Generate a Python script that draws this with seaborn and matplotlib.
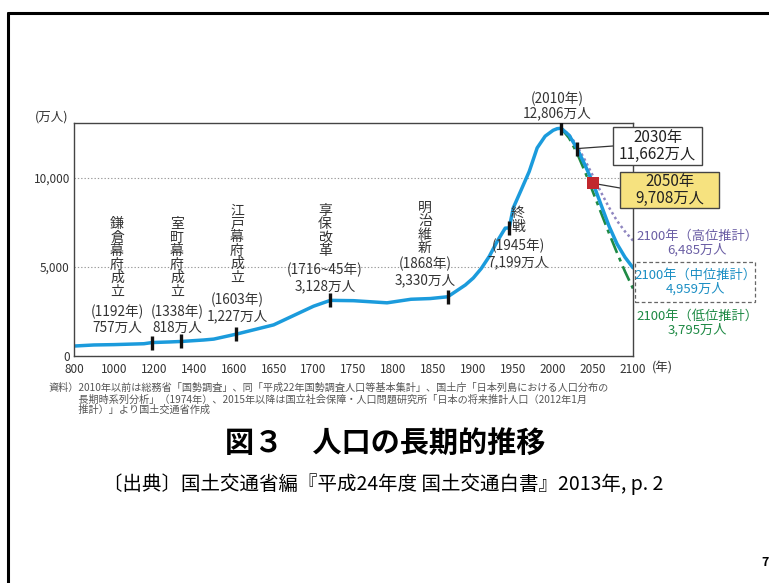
import numpy as np
import pandas as pd
import matplotlib
matplotlib.use("Agg")
import matplotlib.pyplot as plt
import seaborn as sns
from matplotlib.lines import Line2D
from matplotlib.patches import Rectangle

# ---------------- data ----------------
tick_years = [800, 1000, 1200, 1400, 1600, 1650, 1700, 1750, 1800, 1850, 1900, 1950, 2000, 2050, 2100]
tick_labels = [str(y) for y in tick_years]

hist_years = [800, 900, 1000, 1150, 1192, 1280, 1338, 1450, 1500, 1603, 1650, 1700, 1721, 1750,
              1792, 1822, 1846, 1868, 1873, 1890, 1900, 1910, 1920, 1930, 1940, 1945, 1950,
              1960, 1970, 1980, 1990, 2000, 2005, 2010]
hist_pop = [560, 620, 640, 690, 757, 790, 818, 900, 950, 1227, 1750, 2800, 3128, 3110,
            2990, 3190, 3230, 3330, 3480, 3990, 4385, 4920, 5600, 6450, 7190, 7199, 8320,
            9340, 10370, 11700, 12360, 12690, 12780, 12806]

proj_years = [2010, 2020, 2030, 2040, 2050, 2060, 2070, 2080, 2090, 2100]
mid_pop = [12806, 12410, 11662, 10728, 9708, 8500, 7300, 6300, 5550, 4959]
high_pop = [12806, 12450, 11830, 11000, 10110, 9200, 8350, 7600, 7000, 6485]
low_pop = [12806, 12250, 11400, 10350, 9200, 8050, 6900, 5800, 4750, 3795]

event_years = [1192, 1338, 1603, 1721, 1868, 1945, 2010, 2030]
event_pop = [757, 818, 1227, 3128, 3330, 7199, 12806, 11662]

# ---------------- style ----------------
sns.set_theme(style="white")
plt.rcParams["font.family"] = ["Noto Sans CJK JP", "DejaVu Sans"]

BLUE = "#1b9bdc"
PURPLE = "#8f86c0"
GREEN = "#1f8a45"
RED = "#c1272d"
TXT = "#333333"

W, H = 769, 583
fig = plt.figure(figsize=(W / 100, H / 100), dpi=100)
fig.patch.set_facecolor("white")


def fx(px):
    return px / W


def fy(py):
    return 1 - py / H


ax = fig.add_axes([fx(74), fy(356), (633 - 74) / W, (356 - 123) / H])

main_df = pd.DataFrame({"year": hist_years + proj_years[1:], "pop": hist_pop + mid_pop[1:]})
high_df = pd.DataFrame({"year": proj_years, "pop": high_pop})
low_df = pd.DataFrame({"year": proj_years, "pop": low_pop})
ev_df = pd.DataFrame({"year": event_years, "pop": event_pop})

sns.lineplot(data=high_df, x="year", y="pop", ax=ax, color=PURPLE, linewidth=1.8,
             linestyle=(0, (1, 1.2)), errorbar=None)
sns.lineplot(data=low_df, x="year", y="pop", ax=ax, color=GREEN, linewidth=1.9,
             linestyle=(0, (6, 2, 1.5, 2)), errorbar=None)
sns.lineplot(data=main_df, x="year", y="pop", ax=ax, color=BLUE, linewidth=2.5, errorbar=None)
sns.scatterplot(data=ev_df, x="year", y="pop", ax=ax, marker="|", s=110, linewidth=2.4,
                color="#111111", zorder=5)
sns.scatterplot(x=[2050], y=[9708], ax=ax, marker="s", s=70, color=RED, linewidth=0, zorder=6)


def fwd(x):
    return np.interp(x, tick_years, np.arange(len(tick_years)))


def inv(p):
    return np.interp(p, np.arange(len(tick_years)), tick_years)


ax.set_xscale("function", functions=(fwd, inv))
ax.set_xlim(800, 2100)
ax.set_ylim(0, 13100)
ax.set_xticks(tick_years)
ax.set_xticklabels(tick_labels, fontsize=8.5, color=TXT,
                   family=["Liberation Sans Narrow", "Noto Sans CJK JP"])
ax.set_yticks([0, 5000, 10000])
ax.set_yticklabels(["0", "5,000", "10,000"], fontsize=8.5, color=TXT)
ax.tick_params(axis="x", length=0, pad=5)
ax.tick_params(axis="y", length=0, pad=3)
ax.set_xlabel("")
ax.set_ylabel("")
ax.grid(axis="y", linestyle=(0, (1.2, 1.8)), color="#9a9a9a", linewidth=0.8)
ax.grid(axis="x", visible=False)
for s in ax.spines.values():
    s.set_color("#444444")
    s.set_linewidth(1.0)

# axis unit labels
fig.text(fx(52), fy(117), "(万人)", ha="center", va="center", fontsize=9, color=TXT)
fig.text(fx(662), fy(368), "(年)", ha="center", va="center", fontsize=9, color=TXT)

# vertical event labels
vlabels = [
    ("鎌倉幕府成立", 117, 258, "(1192年)\n757万人", 320),
    ("室町幕府成立", 177, 258, "(1338年)\n818万人", 320),
    ("江戸幕府成立", 237, 244, "(1603年)\n1,227万人", 308),
    ("享保改革", 325, 231, "(1716~45年)\n3,128万人", 278),
    ("明治維新", 425, 228, "(1868年)\n3,330万人", 272),
    ("終戦", 518, 220, "(1945年)\n7,199万人", 254),
]
for word, x, yc, sub, ys in vlabels:
    fig.text(fx(x), fy(yc), "\n".join(word), ha="center", va="center", fontsize=10,
             color=TXT, linespacing=0.95)
    fig.text(fx(x), fy(ys), sub, ha="center", va="center", fontsize=9.8, color=TXT,
             linespacing=1.15)

fig.text(fx(557), fy(106), "(2010年)\n12,806万人", ha="center", va="center", fontsize=9.8,
         color=TXT, linespacing=1.05)

# boxes
def box(x0, y0, x1, y1, fc, ls="-", ec="#444444", lw=1.0):
    r = Rectangle((fx(x0), fy(y1)), (x1 - x0) / W, (y1 - y0) / H, transform=fig.transFigure,
                  facecolor=fc, edgecolor=ec, linewidth=lw, linestyle=ls, zorder=3)
    fig.add_artist(r)


def leader(xd, yd, px, py):
    ax.annotate("", xy=(xd, yd), xycoords="data", xytext=(fx(px), fy(py)),
                textcoords="figure fraction", annotation_clip=False,
                arrowprops=dict(arrowstyle="-", color="#333333", lw=0.9, shrinkA=0, shrinkB=0))


leader(2030, 11662, 613, 146)
leader(2050, 9708, 620, 188)
box(613, 127, 702, 165, "white")
fig.text(fx(657.5), fy(146), "2030年\n11,662万人", ha="center", va="center", fontsize=11,
         color="#222222", linespacing=1.0, zorder=4)
box(620, 172, 719, 208, "#f6e27f")
fig.text(fx(669.5), fy(190), "2050年\n9,708万人", ha="center", va="center", fontsize=11,
         color="#222222", linespacing=1.0, zorder=4)

fig.text(fx(697), fy(243), "2100年（高位推計）\n6,485万人", ha="center", va="center",
         fontsize=9.5, color="#6b5fa5", linespacing=1.1)
box(635, 262, 755, 302, "white", ls=(0, (3, 2)), ec="#666666", lw=0.9)
fig.text(fx(695), fy(282), "2100年（中位推計）\n4,959万人", ha="center", va="center",
         fontsize=9.5, color="#1c8fc4", linespacing=1.1, zorder=4)
fig.text(fx(697), fy(323), "2100年（低位推計）\n3,795万人", ha="center", va="center",
         fontsize=9.5, color=GREEN, linespacing=1.1)

# footnote
note = ("資料）2010年以前は総務省「国勢調査」、同「平成22年国勢調査人口等基本集計」、国土庁「日本列島における人口分布の\n"
        "　　　長期時系列分析」（1974年）、2015年以降は国立社会保障・人口問題研究所「日本の将来推計人口（2012年1月\n"
        "　　　推計）」より国土交通省作成")
fig.text(fx(48), fy(383), note, ha="left", va="top", fontsize=7.3, color="#555555",
         linespacing=1.1)

# title and source
fig.text(fx(385), fy(443), "図３　人口の長期的推移", ha="center", va="center", fontsize=21,
         fontweight="bold", color="black")
fig.text(fx(383), fy(484), "〔出典〕国土交通省編『平成24年度 国土交通白書』2013年, p. 2", ha="center",
         va="center", fontsize=14, color="black")

# page number
fig.text(fx(765), fy(563), "7", ha="center", va="center", fontsize=9, fontweight="bold",
         color="black")

# frame
fig.add_artist(Line2D([fx(8), fx(8)], [fy(13), fy(583)], transform=fig.transFigure,
                      color="black", linewidth=2.2))
fig.add_artist(Line2D([fx(8), fx(769)], [fy(13), fy(13)], transform=fig.transFigure,
                      color="black", linewidth=2.2))

fig.savefig("out.png", dpi=100)
